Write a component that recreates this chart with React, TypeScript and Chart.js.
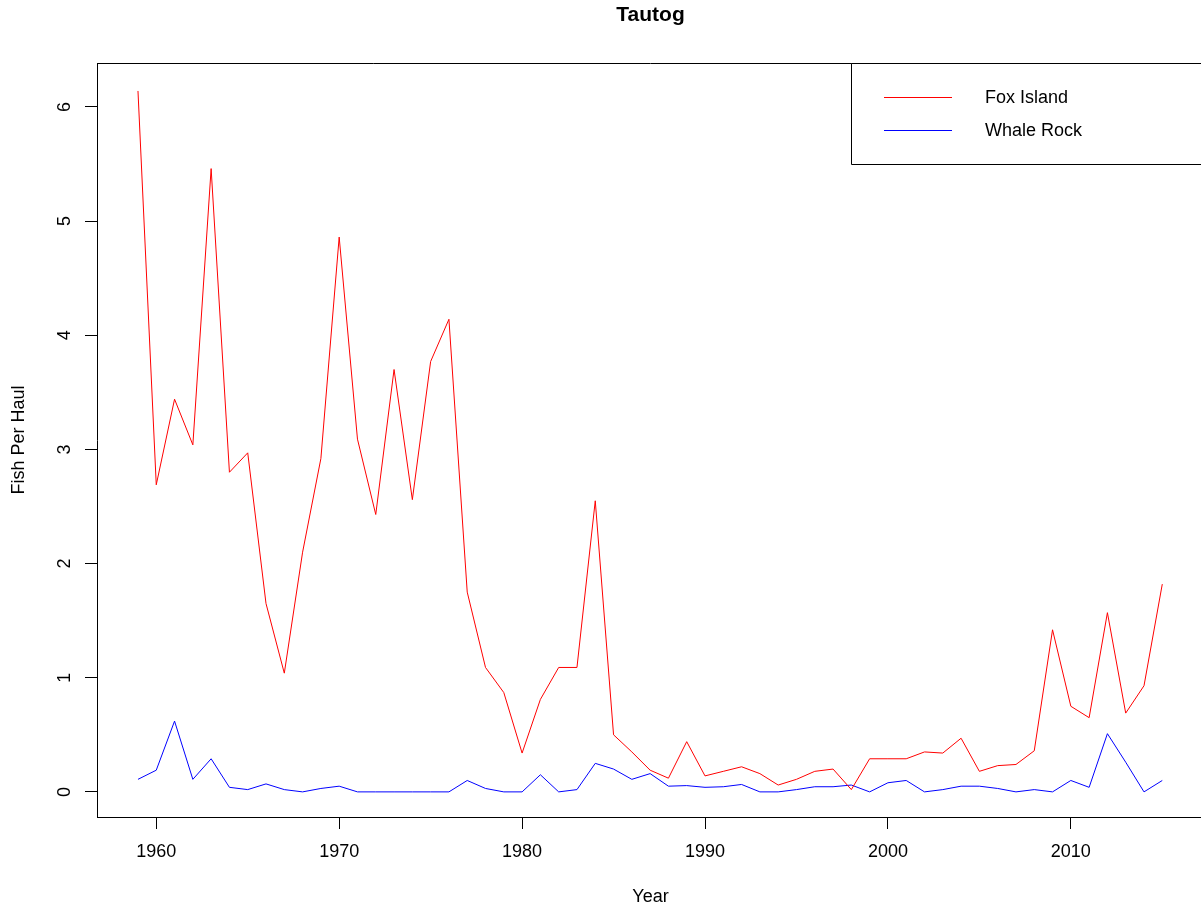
import React, { useEffect, useRef } from "react";
import { Chart, registerables } from "chart.js";

Chart.register(...registerables);

const years = [
  1959, 1960, 1961, 1962, 1963, 1964, 1965, 1966, 1967, 1968,
  1969, 1970, 1971, 1972, 1973, 1974, 1975, 1976, 1977, 1978,
  1979, 1980, 1981, 1982, 1983, 1984, 1985, 1986, 1987, 1988,
  1989, 1990, 1991, 1992, 1993, 1994, 1995, 1996, 1997, 1998,
  1999, 2000, 2001, 2002, 2003, 2004, 2005, 2006, 2007, 2008,
  2009, 2010, 2011, 2012, 2013, 2014, 2015,
];

const foxIsland = [
  6.14, 2.69, 3.44, 3.04, 5.46, 2.8, 2.97, 1.65, 1.04, 2.1,
  2.92, 4.86, 3.09, 2.43, 3.7, 2.56, 3.77, 4.14, 1.75, 1.09,
  0.87, 0.34, 0.81, 1.09, 1.09, 2.55, 0.5, 0.35, 0.19, 0.12,
  0.44, 0.14, 0.18, 0.22, 0.16, 0.06, 0.11, 0.18, 0.2, 0.02,
  0.29, 0.29, 0.29, 0.35, 0.34, 0.47, 0.18, 0.23, 0.24, 0.36,
  1.42, 0.75, 0.65, 1.57, 0.69, 0.93, 1.82,
];

const whaleRock = [
  0.11, 0.19, 0.62, 0.11, 0.29, 0.04, 0.02, 0.07, 0.02, 0.0,
  0.03, 0.05, 0.0, 0.0, 0.0, 0.0, 0.0, 0.0, 0.1, 0.03,
  0.0, 0.0, 0.15, 0.0, 0.02, 0.25, 0.2, 0.11, 0.16, 0.05,
  0.055, 0.04, 0.045, 0.065, 0.0, 0.0, 0.02, 0.045, 0.045, 0.06,
  0.0, 0.08, 0.1, 0.0, 0.02, 0.05, 0.05, 0.03, 0.0, 0.02,
  0.0, 0.1, 0.04, 0.51, 0.26, 0.0, 0.1,
];

const xTicks = [1960, 1970, 1980, 1990, 2000, 2010];
const yTicks = [0, 1, 2, 3, 4, 5, 6];

const seriesLabels = ["Fox Island", "Whale Rock"];
const seriesColors = ["#FF0000", "#0000FF"];
const chartTitle = "Tautog";
const xTitle = "Year";
const yTitle = "Fish Per Haul";

const FONT = "'Liberation Sans', Arial, Helvetica, sans-serif";

const boxLegendPlugin = {
  id: "boxLegend",
  afterDatasetsDraw(chart: any) {
    const { ctx, chartArea } = chart;
    ctx.save();
    // top border of plot box
    ctx.strokeStyle = "#000";
    ctx.lineWidth = 1;
    ctx.beginPath();
    ctx.moveTo(chartArea.left, chartArea.top + 0.5);
    ctx.lineTo(chartArea.right, chartArea.top + 0.5);
    ctx.stroke();

    // legend box
    const bx = chartArea.right - 352.5;
    const by = chartArea.top + 0.5;
    const bh = 101;
    ctx.fillStyle = "#fff";
    ctx.fillRect(bx, by, chartArea.right - bx + 5, bh);
    ctx.beginPath();
    ctx.moveTo(chartArea.right + 5, by);
    ctx.lineTo(bx, by);
    ctx.lineTo(bx, by + bh);
    ctx.lineTo(chartArea.right + 5, by + bh);
    ctx.stroke();

    chart.data.datasets.forEach((ds: any, i: number) => {
      const y = by + 34 + i * 33;
      ctx.strokeStyle = ds.borderColor;
      ctx.lineWidth = 1;
      ctx.beginPath();
      ctx.moveTo(bx + 32.5, y);
      ctx.lineTo(bx + 100.5, y);
      ctx.stroke();
      ctx.fillStyle = "#000";
      ctx.font = `18px ${FONT}`;
      ctx.textAlign = "left";
      ctx.textBaseline = "middle";
      ctx.fillText(ds.label, bx + 133.5, y + 0.5);
    });
    ctx.restore();
  },
};

export default function App() {
  const canvasRef = useRef<HTMLCanvasElement | null>(null);

  useEffect(() => {
    const canvas = canvasRef.current;
    if (!canvas) return;
    Chart.defaults.font.family = FONT;
    Chart.defaults.color = "#000";

    const datasets = [foxIsland, whaleRock].map((vals, i) => ({
      label: seriesLabels[i],
      data: years.map((yr, j) => ({ x: yr, y: vals[j] })),
      borderColor: seriesColors[i],
      backgroundColor: seriesColors[i],
      borderWidth: 1,
      pointRadius: 0,
      tension: 0,
      fill: false,
    }));

    const chart = new Chart(canvas, {
      type: "line",
      data: { datasets },
      plugins: [boxLegendPlugin],
      options: {
        animation: false,
        responsive: false,
        devicePixelRatio: 1,
        layout: { padding: 0 },
        plugins: {
          legend: { display: false },
          tooltip: { enabled: false },
          title: {
            display: true,
            fullSize: false,
            text: chartTitle,
            color: "#000",
            font: { size: 21, weight: "bold", family: FONT, lineHeight: 1.2 },
            padding: { top: 3, bottom: 34.8 },
          },
        },
        scales: {
          x: {
            type: "linear",
            min: 1956.76,
            max: 2017.28,
            afterBuildTicks: (scale: any) => {
              scale.ticks = xTicks.map((v) => ({ value: v }));
            },
            afterFit: (scale: any) => {
              scale.height = 92;
            },
            ticks: {
              autoSkip: false,
              maxRotation: 0,
              minRotation: 0,
              padding: 12,
              color: "#000",
              font: { size: 18, family: FONT, lineHeight: 1.2 },
              callback: (v: any) => String(v),
            },
            grid: {
              display: true,
              drawOnChartArea: false,
              drawTicks: true,
              tickLength: 12,
              color: "#000",
              lineWidth: 1,
            },
            border: { display: true, color: "#000", width: 1 },
            title: {
              display: true,
              text: xTitle,
              color: "#000",
              font: { size: 18, family: FONT, lineHeight: 1.2 },
              padding: { top: 0, bottom: 1.2 },
            },
          },
          y: {
            type: "linear",
            min: -0.22,
            max: 6.385,
            afterBuildTicks: (scale: any) => {
              scale.ticks = yTicks.map((v) => ({ value: v }));
            },
            afterFit: (scale: any) => {
              scale.width = 97;
            },
            ticks: {
              autoSkip: false,
              minRotation: 90,
              maxRotation: 90,
              crossAlign: "center",
              padding: 15,
              color: "#000",
              font: { size: 18, family: FONT, lineHeight: 1.2 },
              callback: (v: any) => String(v),
            },
            grid: {
              display: true,
              drawOnChartArea: false,
              drawTicks: true,
              tickLength: 12,
              color: "#000",
              lineWidth: 1,
            },
            border: { display: true, color: "#000", width: 1 },
            title: {
              display: true,
              text: yTitle,
              color: "#000",
              font: { size: 18, family: FONT, lineHeight: 1.2 },
              padding: { top: 7.8, bottom: 0 },
            },
          },
        },
      },
    } as any);

    return () => {
      chart.destroy();
    };
  }, []);

  return (
    <div
      style={{
        position: "fixed",
        left: 0,
        top: 0,
        width: 1201,
        height: 909,
        overflow: "hidden",
        background: "#fff",
      }}
    >
      <canvas
        ref={canvasRef}
        width={1204}
        height={909}
        style={{ width: 1204, height: 909, display: "block" }}
      />
    </div>
  );
}
